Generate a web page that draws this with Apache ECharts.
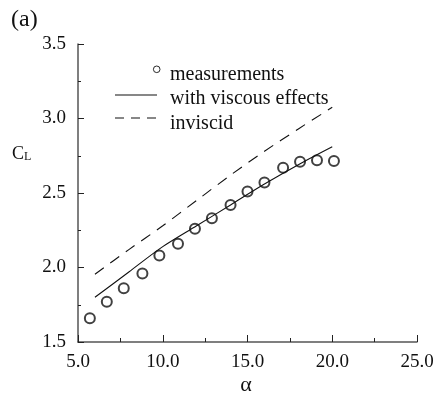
<!DOCTYPE html>
<html><head><meta charset="utf-8">
<script src="https://cdn.jsdelivr.net/npm/echarts@6/dist/echarts.min.js"></script>
<style>html,body{margin:0;padding:0;background:#fff}#c{width:437px;height:396px}</style>
</head><body><div id="c"></div>
<script>
const measAlpha = [5.7, 6.7, 7.7, 8.8, 9.8, 10.9, 11.9, 12.9, 14.0, 15.0, 16.0, 17.1, 18.1, 19.1, 20.1];
const measCL    = [1.66, 1.77, 1.86, 1.96, 2.08, 2.16, 2.26, 2.33, 2.42, 2.51, 2.57, 2.67, 2.71, 2.72, 2.715];
const viscAlpha = [6.0, 8.0, 10.0, 12.0, 14.0, 16.0, 18.0, 20.0];
const viscCL    = [1.80, 1.97, 2.14, 2.28, 2.42, 2.56, 2.69, 2.81];
const invAlpha  = [6.0, 8.0, 10.0, 12.0, 14.0, 16.0, 18.0, 20.0];
const invCL     = [1.955, 2.12, 2.28, 2.45, 2.62, 2.78, 2.93, 3.075];
const legendLabels = ['measurements', 'with viscous effects', 'inviscid'];

const FONT = "'Liberation Serif','Times New Roman',serif";
const chart = echarts.init(document.getElementById('c'));
const pair = (xs, ys) => xs.map((x, i) => [x, ys[i]]);
const axisCol = '#555';
chart.setOption({
  animation: false,
  backgroundColor: '#fff',
  grid: { left: 78, right: 20, top: 44, bottom: 54 },
  xAxis: {
    type: 'value', min: 5, max: 25, interval: 5,
    axisLine: { show: true, lineStyle: { color: axisCol, width: 1.5 } },
    axisTick: { show: true, inside: true, length: 7, lineStyle: { color: '#222' } },
    minorTick: { show: true, splitNumber: 2, length: 4, lineStyle: { color: '#222' } },
    splitLine: { show: false },
    axisLabel: { formatter: v => v.toFixed(1), fontFamily: FONT, fontSize: 19, color: '#111', margin: 11 }
  },
  yAxis: {
    type: 'value', min: 1.5, max: 3.5, interval: 0.5,
    axisLine: { show: true, lineStyle: { color: axisCol, width: 1.5 } },
    axisTick: { show: true, inside: true, length: 6, lineStyle: { color: '#222' } },
    minorTick: { show: true, splitNumber: 2, length: 3, lineStyle: { color: '#222' } },
    splitLine: { show: false },
    axisLabel: { formatter: v => v.toFixed(1), fontFamily: FONT, fontSize: 19, color: '#111', margin: 12 }
  },
  series: [
    { name: legendLabels[0], type: 'scatter', data: pair(measAlpha, measCL), symbol: 'emptyCircle', symbolSize: 10,
      itemStyle: { color: '#111', borderColor: '#111', borderWidth: 0.9 } },
    { name: legendLabels[1], type: 'line', data: pair(viscAlpha, viscCL), smooth: 0.3, showSymbol: false,
      lineStyle: { color: '#111', width: 1.1 } },
    { name: legendLabels[2], type: 'line', data: pair(invAlpha, invCL), smooth: 0.3, showSymbol: false,
      lineStyle: { color: '#111', width: 1.1, type: [11, 8] } }
  ],
  graphic: [
    { type: 'text', left: 11, top: 8, style: { text: '(a)', font: '24px ' + FONT, fill: '#111' } },
    { type: 'text', left: 12, top: 145, style: { text: '{c|C}{l|L}', rich: { c: { fontFamily: FONT, fontSize: 18, fill: '#111', verticalAlign: 'bottom' }, l: { fontFamily: FONT, fontSize: 12, fill: '#111', verticalAlign: 'bottom' } } } },
    { type: 'text', x: 246, y: 385, style: { text: 'α', font: '22px ' + FONT, fill: '#111', align: 'center', verticalAlign: 'middle' } },
    { type: 'circle', shape: { cx: 156.7, cy: 69.3, r: 3.3 }, style: { fill: '#fff', stroke: '#111', lineWidth: 0.9 } },
    { type: 'text', x: 170, y: 75, style: { text: legendLabels[0], font: '20px ' + FONT, fill: '#111', verticalAlign: 'middle' } },
    { type: 'line', shape: { x1: 115, y1: 95, x2: 157, y2: 95 }, style: { stroke: '#111', lineWidth: 1.1 } },
    { type: 'text', x: 170, y: 99, style: { text: legendLabels[1], font: '20px ' + FONT, fill: '#111', verticalAlign: 'middle' } },
    { type: 'line', shape: { x1: 115, y1: 118, x2: 157, y2: 118 }, style: { stroke: '#111', lineWidth: 1.1, lineDash: [9, 7] } },
    { type: 'text', x: 170, y: 124, style: { text: legendLabels[2], font: '20px ' + FONT, fill: '#111', verticalAlign: 'middle' } }
  ]
});
</script></body></html>
